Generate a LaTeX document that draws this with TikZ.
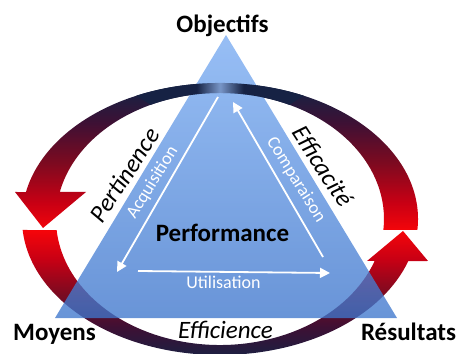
\documentclass[tikz,border=0pt]{standalone}
\usepackage{fontspec}
\setmainfont{Carlito}
\usetikzlibrary{arrows.meta,positioning}
\definecolor{tritop}{RGB}{122,172,242}
\definecolor{tribot}{RGB}{62,118,204}
\definecolor{ringnavy}{RGB}{22,34,68}
\definecolor{ringplum}{RGB}{62,16,52}
\definecolor{ringwine}{RGB}{125,10,32}
\definecolor{ringred}{RGB}{200,0,20}
\definecolor{ringhot}{RGB}{245,5,10}
\definecolor{glintblue}{RGB}{120,150,200}
\pgfdeclareverticalshading{ringshade}{100bp}{color(0bp)=(ringnavy); color(25bp)=(ringnavy); color(31bp)=(ringplum); color(37bp)=(ringwine); color(43bp)=(ringred); color(48bp)=(ringhot); color(53bp)=(ringred); color(60bp)=(ringwine); color(67bp)=(ringplum); color(73bp)=(ringnavy); color(100bp)=(ringnavy)}
\pgfdeclarehorizontalshading{glint}{100bp}{color(0bp)=(ringnavy); color(43bp)=(ringnavy); color(50bp)=(glintblue); color(57bp)=(ringnavy); color(100bp)=(ringnavy)}
\begin{document}
\begin{tikzpicture}
 [x=1pt, y=1pt,
 corner/.style={
  font=\fontsize{25}{30}\selectfont\bfseries,
  anchor=base,
  inner sep=0pt},
 quality/.style={
  font=\fontsize{25}{30}\selectfont\itshape,
  inner sep=0pt},
 process/.style={
  font=\fontsize{18}{22}\selectfont,
  text=white,
  inner sep=0pt},
 flow/.style={-{Triangle[length=10pt,width=10pt]}, white, line width=1.8pt}]
\useasboundingbox (0,0) rectangle (462,353);
\clip (0,0) rectangle (462,353);
% cycle ring
\shade[shading=ringshade]
 (417.35,123) arc[start angle=-4.64, end angle=168.55, x radius=198, y radius=136]
 -- (15,161) -- (43,125) -- (86,161) -- (59.8,161)
 arc[start angle=167.63, end angle=-5.01, x radius=164, y radius=126] -- cycle
 (22.65,123) arc[start angle=184.64, end angle=342.01, x radius=198, y radius=136]
 -- (428,92) -- (403,122) -- (367,92) -- (374.6,92)
 arc[start angle=340.53, end angle=185.01, x radius=164, y radius=126] -- cycle;
% triangle
\coordinate (apex) at (226,318);
\coordinate (baseL) at (55,35);
\coordinate (baseR) at (397,35);
\shade[top color=tritop, bottom color=tribot, opacity=0.78] (apex) -- (baseL) -- (baseR) -- cycle;
% top of the ring over the triangle
\shade[shading=glint]
 (303.7,257.3) arc[start angle=65, end angle=115, x radius=198, y radius=136]
 -- (150.7,248.2) arc[start angle=115, end angle=65, x radius=164, y radius=126] -- cycle;
% inner arrows
\coordinate (acqA) at (218,256);
\coordinate (acqB) at (117,81);
\coordinate (cmpA) at (323,96);
\coordinate (cmpB) at (233,251);
\coordinate (utiA) at (138,82);
\coordinate (utiB) at (330,80);
\path (acqA) edge[flow] (acqB);
\path (cmpA) edge[flow] (cmpB);
\path (utiA) edge[flow] (utiB);
\node (acq) [process, rotate=58] at (152.5,170.5) {Acquisition};
\node (cmp) [process, rotate=-58] at (296,173) {Comparaison};
\node (uti) [process, anchor=base] at (223.5,65) {Utilisation};
% labels
\node (objectifs) [corner] at (222.5,320) {Objectifs};
\node (moyens) [corner] at (54.5,13) {Moyens};
\node (resultats) [corner] at (408.5,13) {Résultats};
\node (perf) [corner] at (222.5,111) {Performance};
\node (efficience) [quality, anchor=base] at (225.5,15) {Efficience};
\node (pertinence) [quality, rotate=57] at (124.5,178) {Pertinence};
\node (efficacite) [quality, rotate=-57] at (323,187) {Efficacité};
\end{tikzpicture}
\end{document}
